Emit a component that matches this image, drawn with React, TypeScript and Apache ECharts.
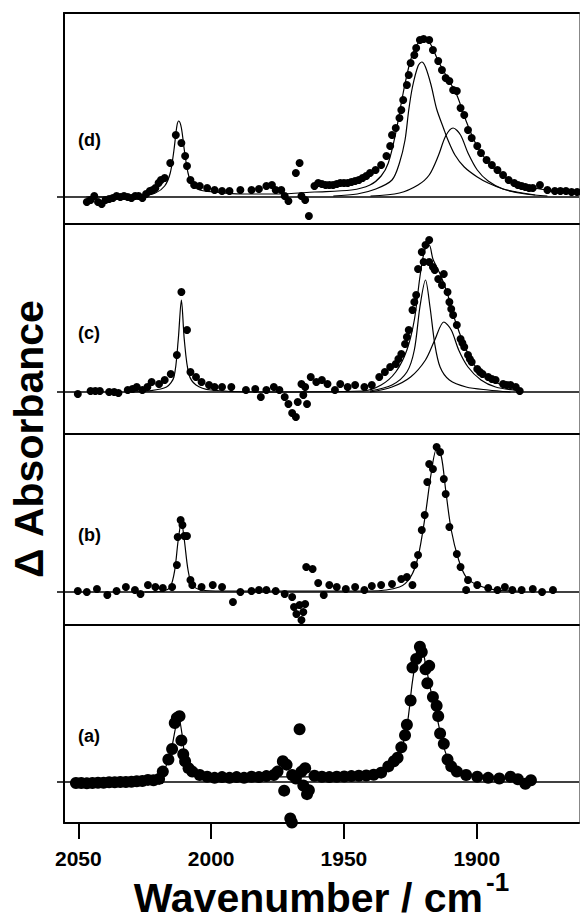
import React, { useEffect, useRef } from "react";
import * as echarts from "echarts";

// ---- axis ----
const X_MIN = 1861.5;
const X_MAX = 2055.4;
const xTicks = [1900, 1950, 2000, 2050];
const panelLabels = ["(d)", "(c)", "(b)", "(a)"];

// ---- panel (d) ----
const dDots = [
  [2046.8, -0.05], [2045.4, -0.03], [2044.0, 0.01], [2042.6, -0.05], [2041.2, -0.07], [2039.8, -0.03],
  [2038.4, -0.02], [2037.0, -0.01], [2035.6, 0.01], [2034.2, 0.0], [2032.8, 0.01], [2031.4, 0.0],
  [2030.0, -0.01], [2028.6, 0.01], [2027.3, 0.01], [2025.9, -0.01], [2024.5, 0.03], [2023.1, 0.06],
  [2022.0, 0.07], [2021.0, 0.09], [2019.8, 0.14], [2018.9, 0.17], [2017.5, 0.19], [2015.4, 0.34],
  [2013.3, 0.62], [2011.2, 0.54], [2009.8, 0.41], [2009.1, 0.31], [2007.8, 0.17], [2006.4, 0.12],
  [2004.3, 0.11], [2001.5, 0.09], [1998.7, 0.07], [1995.9, 0.06], [1993.1, 0.06], [1989.0, 0.07],
  [1984.8, 0.07], [1982.0, 0.08], [1979.2, 0.11], [1977.1, 0.12], [1975.7, 0.07], [1973.6, 0.07],
  [1972.3, 0.01], [1970.9, -0.04], [1968.1, 0.24], [1966.7, 0.34], [1966.0, 0.01], [1964.6, -0.03],
  [1963.2, -0.19], [1961.1, 0.11], [1959.7, 0.14], [1958.3, 0.13], [1956.9, 0.12], [1955.5, 0.12],
  [1954.1, 0.12], [1952.7, 0.13], [1951.4, 0.14], [1950.0, 0.14], [1948.6, 0.14], [1947.2, 0.15],
  [1945.8, 0.16], [1944.4, 0.17], [1943.0, 0.19], [1941.6, 0.21], [1940.2, 0.24], [1938.1, 0.27],
  [1936.0, 0.32], [1934.0, 0.41], [1932.6, 0.51], [1931.9, 0.62], [1930.5, 0.69], [1929.1, 0.79],
  [1928.4, 0.87], [1927.7, 0.97], [1926.3, 1.12], [1925.6, 1.22], [1924.9, 1.34], [1923.5, 1.42],
  [1922.8, 1.49], [1921.4, 1.57], [1920.0, 1.58], [1917.9, 1.57], [1916.5, 1.47], [1914.5, 1.36],
  [1913.1, 1.27], [1911.7, 1.19], [1910.3, 1.16], [1908.9, 1.07], [1907.5, 1.06], [1906.1, 0.89],
  [1904.7, 0.82], [1903.3, 0.67], [1901.9, 0.59], [1899.8, 0.51], [1898.4, 0.44], [1896.3, 0.37],
  [1894.3, 0.32], [1892.2, 0.27], [1890.1, 0.22], [1888.0, 0.17], [1885.9, 0.14], [1884.5, 0.12],
  [1883.1, 0.11], [1881.7, 0.1], [1880.3, 0.09], [1878.9, 0.09], [1876.2, 0.12], [1873.4, 0.07],
  [1870.6, 0.06], [1868.5, 0.06], [1866.4, 0.06], [1864.3, 0.05], [1862.2, 0.05],
];
const dFit = [
  [2047.0, 0.0], [2026.6, 0.01], [2021.0, 0.04], [2017.5, 0.11], [2015.4, 0.24], [2014.0, 0.47],
  [2012.9, 0.71], [2012.2, 0.76], [2011.2, 0.69], [2010.1, 0.47], [2008.7, 0.24], [2007.1, 0.12],
  [2004.3, 0.07], [1998.7, 0.05], [1989.0, 0.03], [1975.0, 0.03], [1961.1, 0.05], [1947.2, 0.07],
  [1940.2, 0.12], [1936.0, 0.21], [1933.3, 0.34], [1930.5, 0.64], [1927.7, 1.04], [1924.9, 1.37],
  [1922.1, 1.54], [1919.6, 1.58], [1917.2, 1.52], [1914.5, 1.36], [1911.0, 1.19], [1907.5, 1.02],
  [1904.0, 0.76], [1900.5, 0.54], [1897.0, 0.39], [1892.9, 0.27], [1887.3, 0.17], [1881.7, 0.11],
  [1873.4, 0.07], [1862.2, 0.05],
];
const dPeak1 = [
  [1954.0, 0.01], [1945.0, 0.03], [1938.0, 0.08], [1931.9, 0.17], [1929.1, 0.34], [1927.0, 0.57],
  [1925.6, 0.87], [1924.2, 1.1], [1922.1, 1.31], [1920.7, 1.35], [1919.3, 1.3], [1917.2, 1.12],
  [1915.1, 0.88], [1912.4, 0.68], [1911.0, 0.58], [1908.2, 0.42], [1904.7, 0.3], [1899.8, 0.2],
  [1895.7, 0.14], [1890.1, 0.08], [1885.0, 0.05], [1878.0, 0.02],
];
const dPeak2 = [
  [1940.0, 0.01], [1929.1, 0.04], [1922.1, 0.12], [1917.9, 0.22], [1914.5, 0.41], [1911.7, 0.61],
  [1908.9, 0.69], [1906.1, 0.62], [1903.3, 0.44], [1899.8, 0.27], [1895.7, 0.16], [1890.1, 0.08],
  [1881.7, 0.03], [1873.4, 0.01],
];

// ---- panel (c) ----
const cDots = [
  [2050.2, -0.02], [2045.4, 0.01], [2043.6, 0.01], [2041.9, 0.01], [2038.4, 0.0], [2036.5, 0.0],
  [2034.9, -0.01], [2031.4, 0.02], [2029.6, 0.03], [2028.0, 0.05], [2025.9, 0.02], [2024.0, 0.05],
  [2022.4, 0.1], [2019.6, 0.08], [2017.5, 0.12], [2015.2, 0.18], [2012.9, 0.37], [2011.2, 1.0],
  [2009.1, 0.62], [2007.8, 0.2], [2005.7, 0.15], [2003.6, 0.1], [2000.8, 0.07], [1998.7, 0.05],
  [1995.9, 0.05], [1992.4, 0.05], [1986.9, 0.02], [1983.4, 0.03], [1981.3, -0.05], [1979.2, 0.02],
  [1976.4, 0.05], [1974.3, 0.02], [1972.3, -0.05], [1970.9, -0.12], [1969.5, -0.21], [1968.1, -0.25],
  [1967.4, -0.1], [1966.0, 0.08], [1965.3, -0.03], [1964.6, 0.05], [1963.9, -0.12], [1962.5, 0.15],
  [1960.4, 0.1], [1958.3, 0.12], [1956.2, 0.08], [1953.4, 0.02], [1951.4, 0.08], [1948.6, 0.05],
  [1945.8, 0.07], [1942.3, 0.05], [1939.5, 0.07], [1936.7, 0.15], [1934.6, 0.2], [1932.6, 0.25],
  [1930.5, 0.28], [1929.5, 0.33], [1928.4, 0.38], [1927.0, 0.48], [1926.3, 0.55], [1925.6, 0.62],
  [1924.2, 0.82], [1923.5, 0.9], [1922.8, 0.97], [1922.1, 1.23], [1920.7, 1.4], [1920.0, 1.3],
  [1919.3, 1.47], [1917.9, 1.52], [1917.9, 1.3], [1916.5, 1.25], [1915.8, 1.22], [1914.5, 1.13],
  [1913.1, 1.07], [1912.4, 1.18], [1911.0, 1.0], [1910.3, 0.9], [1909.6, 0.83], [1908.9, 0.77],
  [1907.5, 0.67], [1906.1, 0.53], [1905.4, 0.49], [1904.7, 0.45], [1903.3, 0.37], [1902.6, 0.33],
  [1901.9, 0.3], [1899.8, 0.23], [1898.8, 0.2], [1897.8, 0.18], [1895.7, 0.15], [1894.3, 0.13],
  [1892.9, 0.12], [1890.1, 0.08], [1888.7, 0.07], [1887.3, 0.07], [1885.3, 0.05], [1883.8, 0.01],
];
const cFit = [
  [2030.0, 0.0], [2023.8, 0.01], [2016.8, 0.05], [2014.0, 0.15], [2012.4, 0.52], [2011.2, 0.92],
  [2010.1, 0.52], [2008.4, 0.18], [2005.7, 0.07], [2000.1, 0.02], [1982.0, 0.0], [1943.0, 0.01],
  [1936.0, 0.07], [1930.5, 0.2], [1926.3, 0.42], [1923.5, 0.72], [1921.4, 1.15], [1919.6, 1.42],
  [1917.9, 1.47], [1916.5, 1.33], [1913.8, 1.18], [1911.0, 0.98], [1908.2, 0.72], [1904.7, 0.47],
  [1901.2, 0.28], [1897.1, 0.17], [1891.5, 0.08], [1884.5, 0.03],
];
const cPeak1 = [
  [1940.2, 0.01], [1931.9, 0.07], [1926.3, 0.2], [1923.5, 0.42], [1921.4, 0.85], [1919.3, 1.12],
  [1917.6, 0.85], [1915.8, 0.48], [1913.8, 0.25], [1910.3, 0.12], [1904.0, 0.05], [1895.7, 0.02],
  [1887.3, 0.0],
];
const cPeak2 = [
  [1940.2, 0.0], [1931.9, 0.05], [1924.9, 0.15], [1919.3, 0.32], [1915.8, 0.52], [1912.4, 0.7],
  [1909.6, 0.62], [1906.8, 0.42], [1903.3, 0.25], [1898.4, 0.12], [1892.9, 0.05], [1885.9, 0.02],
];

// ---- panel (b) ----
const bDots = [
  [2050.2, 0.01], [2046.8, 0.0], [2043.0, 0.03], [2039.1, -0.03], [2035.6, 0.01], [2032.1, 0.05],
  [2028.7, 0.02], [2026.6, -0.02], [2023.8, 0.07], [2021.0, 0.05], [2018.2, 0.04], [2014.7, 0.05],
  [2012.9, 0.27], [2012.6, 0.55], [2011.5, 0.72], [2010.8, 0.67], [2010.1, 0.56], [2009.1, 0.56],
  [2007.8, 0.12], [2007.1, 0.07], [2003.6, 0.05], [1999.4, 0.07], [1995.9, 0.05], [1991.8, -0.1],
  [1989.0, 0.0], [1984.8, 0.01], [1982.0, 0.02], [1979.2, 0.02], [1975.7, 0.01], [1972.3, -0.02],
  [1969.5, -0.05], [1968.8, -0.15], [1967.9, -0.22], [1966.7, -0.13], [1966.0, -0.28], [1965.3, -0.2],
  [1964.6, -0.12], [1964.2, 0.25], [1961.8, 0.23], [1959.7, 0.09], [1957.6, -0.03], [1955.5, 0.07],
  [1952.7, 0.05], [1949.3, 0.03], [1945.8, 0.05], [1942.3, 0.02], [1939.5, 0.06], [1936.0, 0.07],
  [1931.9, 0.08], [1928.4, 0.13], [1926.3, 0.15], [1924.2, 0.07], [1923.5, 0.27], [1922.1, 0.37],
  [1920.7, 0.62], [1919.6, 0.77], [1918.6, 1.1], [1917.9, 1.28], [1916.5, 1.23], [1915.1, 1.45],
  [1913.8, 1.4], [1912.4, 1.13], [1911.7, 0.98], [1910.3, 0.65], [1907.5, 0.38], [1906.1, 0.25],
  [1904.0, 0.02], [1903.3, 0.12], [1899.8, 0.07], [1895.7, 0.04], [1892.2, 0.02], [1889.4, 0.05],
  [1886.6, 0.02], [1883.1, 0.02], [1878.9, 0.03], [1875.4, 0.0], [1871.3, 0.02],
];
const bFit = [
  [2025.0, 0.0], [2018.2, 0.01], [2015.4, 0.05], [2013.7, 0.22], [2012.4, 0.52], [2011.2, 0.7],
  [2010.1, 0.52], [2008.7, 0.22], [2007.1, 0.07], [2003.6, 0.02], [1995.9, 0.01], [1940.2, 0.01],
  [1929.1, 0.05], [1924.9, 0.15], [1922.1, 0.35], [1919.3, 0.78], [1917.2, 1.18], [1915.1, 1.43],
  [1913.3, 1.35], [1911.7, 1.02], [1909.6, 0.62], [1906.8, 0.32], [1904.0, 0.15], [1899.8, 0.07],
  [1892.9, 0.02], [1884.5, 0.01],
];

// ---- panel (a) ----
const aDots = [
  [2050.9, -0.01], [2048.9, -0.01], [2046.8, -0.013], [2044.7, -0.01], [2042.6, -0.007], [2040.5, -0.007],
  [2038.4, -0.003], [2036.3, -0.003], [2034.2, 0.0], [2032.1, 0.0], [2030.0, 0.003], [2028.0, 0.007],
  [2025.9, 0.01], [2023.8, 0.02], [2021.7, 0.017], [2019.6, 0.03], [2018.2, 0.1], [2016.1, 0.217],
  [2014.7, 0.317], [2013.7, 0.567], [2012.9, 0.617], [2011.9, 0.633], [2011.2, 0.4], [2010.5, 0.267],
  [2009.8, 0.2], [2008.5, 0.133], [2007.1, 0.1], [2004.3, 0.067], [2001.5, 0.05], [1998.7, 0.04],
  [1995.9, 0.047], [1993.1, 0.04], [1990.4, 0.047], [1987.6, 0.04], [1984.8, 0.05], [1982.0, 0.047],
  [1979.2, 0.057], [1976.4, 0.067], [1975.0, 0.1], [1973.0, 0.2], [1972.5, -0.083], [1971.6, 0.167],
  [1970.2, -0.35], [1969.6, -0.39], [1969.5, 0.067], [1968.1, 0.033], [1966.7, 0.507], [1966.0, 0.1],
  [1965.3, -0.033], [1964.6, 0.133], [1963.9, -0.117], [1963.2, -0.08], [1961.1, 0.06], [1958.3, 0.05],
  [1955.5, 0.047], [1952.7, 0.05], [1949.9, 0.053], [1947.2, 0.057], [1944.4, 0.06], [1941.6, 0.063],
  [1938.8, 0.07], [1936.0, 0.09], [1933.3, 0.15], [1931.2, 0.2], [1929.8, 0.233], [1928.4, 0.333],
  [1927.0, 0.45], [1926.3, 0.55], [1924.9, 0.783], [1924.2, 1.1], [1922.8, 1.183], [1921.4, 1.3],
  [1920.7, 1.25], [1919.3, 1.083], [1918.6, 0.95], [1917.9, 1.117], [1916.5, 0.817], [1915.1, 0.733],
  [1914.5, 0.633], [1913.8, 0.467], [1912.4, 0.367], [1911.0, 0.217], [1909.6, 0.15], [1907.5, 0.1],
  [1904.0, 0.067], [1899.8, 0.05], [1895.7, 0.04], [1891.5, 0.033], [1887.3, 0.05], [1884.5, 0.027],
  [1881.7, -0.017], [1879.6, 0.017],
];
const aFit = [
  [2023.8, 0.017], [2018.2, 0.1], [2015.4, 0.267], [2013.3, 0.533], [2012.2, 0.617], [2011.0, 0.467],
  [2009.8, 0.233], [2007.8, 0.1], [2004.3, 0.057], [1995.9, 0.04], [1975.0, 0.05], [1960.0, 0.05],
  [1940.2, 0.05], [1933.3, 0.133], [1929.1, 0.267], [1926.3, 0.533], [1924.2, 0.967], [1922.1, 1.267],
  [1920.7, 1.283], [1919.3, 1.133], [1917.2, 0.867], [1914.5, 0.567], [1912.4, 0.333], [1909.6, 0.167],
  [1905.4, 0.083], [1898.4, 0.05], [1884.5, 0.033],
];

const FONT = '"Liberation Sans", Arial, Helvetica, sans-serif';

// layout of the four stacked panels (pixels)
const layout = [
  { top: 13, bottom: 224, base: 197, k: 100, size: 8, labelTop: 131 },
  { top: 224, bottom: 434, base: 392, k: 100, size: 8, labelTop: 324 },
  { top: 434, bottom: 625, base: 592, k: 100, size: 8, labelTop: 526 },
  { top: 625, bottom: 823, base: 782, k: 104, size: 12, labelTop: 727 },
];
const panelData = [
  { dots: dDots, fits: [dFit, dPeak1, dPeak2] },
  { dots: cDots, fits: [cFit, cPeak1, cPeak2] },
  { dots: bDots, fits: [bFit] },
  { dots: aDots, fits: [aFit] },
];

export default function App() {
  const ref = useRef<HTMLDivElement>(null);
  useEffect(() => {
    if (!ref.current) return;
    const chart = echarts.init(ref.current, null, { renderer: "svg" });
    const grids: any[] = [];
    const xAxes: any[] = [];
    const yAxes: any[] = [];
    const series: any[] = [];
    const titles: any[] = [];
    layout.forEach((p, i) => {
      grids.push({ left: 64, right: 1, top: p.top, height: p.bottom - p.top });
      xAxes.push({
        gridIndex: i, type: "value", min: X_MIN, max: X_MAX, inverse: true, position: "top",
        axisLine: { show: true, onZero: false, lineStyle: { color: "#000", width: 2 } },
        axisTick: { show: false }, axisLabel: { show: false }, splitLine: { show: false },
      });
      yAxes.push({
        gridIndex: i, type: "value", position: "left",
        min: -(p.bottom - p.base) / p.k, max: (p.base - p.top) / p.k,
        axisLine: { show: true, onZero: false, lineStyle: { color: "#000", width: 2 } },
        axisTick: { show: true, inside: false, length: 7, customValues: [0], lineStyle: { color: "#000", width: 1.5 } },
        axisLabel: { show: false }, splitLine: { show: false },
      });
      yAxes.push({
        gridIndex: i, type: "value", position: "right",
        min: -(p.bottom - p.base) / p.k, max: (p.base - p.top) / p.k,
        axisLine: { show: true, onZero: false, lineStyle: { color: "#888", width: 1 } },
        axisTick: { show: false }, axisLabel: { show: false }, splitLine: { show: false },
      });
      series.push({
        type: "scatter", xAxisIndex: i, yAxisIndex: 2 * i, data: panelData[i].dots,
        symbol: "circle", symbolSize: p.size, itemStyle: { color: "#000", opacity: 1 }, silent: true, z: 3,
        markLine: {
          silent: true, symbol: ["none", "none"], label: { show: false },
          lineStyle: { color: "#000", width: 1.5, type: "solid", opacity: 1 }, data: [{ yAxis: 0 }],
        },
      });
      panelData[i].fits.forEach((f) => {
        series.push({
          type: "line", xAxisIndex: i, yAxisIndex: 2 * i, data: f, showSymbol: false, symbol: "none",
          smooth: 0.3, lineStyle: { color: "#000", width: 1.2, opacity: 1 }, silent: true, z: 4,
        });
      });
      titles.push({
        text: panelLabels[i], left: 78, top: p.labelTop, padding: 0,
        textStyle: { fontSize: 18, fontWeight: "bold", fontFamily: FONT, color: "#000" },
      });
    });
    // bottom wavenumber axis
    xAxes.push({
      gridIndex: 3, type: "value", min: X_MIN, max: X_MAX, inverse: true, position: "bottom",
      axisLine: { show: true, onZero: false, lineStyle: { color: "#000", width: 2 } },
      axisTick: { show: true, length: 16, customValues: xTicks, lineStyle: { color: "#000", width: 2 } },
      axisLabel: {
        show: true, customValues: xTicks, margin: 25, fontSize: 21, fontWeight: "bold",
        fontFamily: FONT, color: "#000", formatter: (v: number) => String(v),
      },
      splitLine: { show: false },
    });

    chart.setOption({
      animation: false,
      backgroundColor: "#fff",
      textStyle: { fontFamily: FONT },
      title: titles,
      grid: grids,
      xAxis: xAxes,
      yAxis: yAxes,
      series,
      graphic: [
        {
          type: "text", x: 483, y: 898,
          style: { text: "Wavenumber / cm", align: "right", verticalAlign: "middle", fontSize: 41, fontWeight: "bold", fontFamily: FONT, fill: "#000" },
        },
        {
          type: "text", x: 486, y: 882,
          style: { text: "-1", align: "left", verticalAlign: "middle", fontSize: 26, fontWeight: "bold", fontFamily: FONT, fill: "#000" },
        },
        {
          type: "text", x: 29, y: 439, rotation: Math.PI / 2,
          style: { text: "\u0394 Absorbance", align: "center", verticalAlign: "middle", fontSize: 41, fontWeight: "bold", fontFamily: FONT, fill: "#000" },
        },
      ],
    });
    return () => chart.dispose();
  }, []);
  return (
    <div
      ref={ref}
      style={{ position: "absolute", left: 0, top: 0, width: 580, height: 924, background: "#fff" }}
    />
  );
}
